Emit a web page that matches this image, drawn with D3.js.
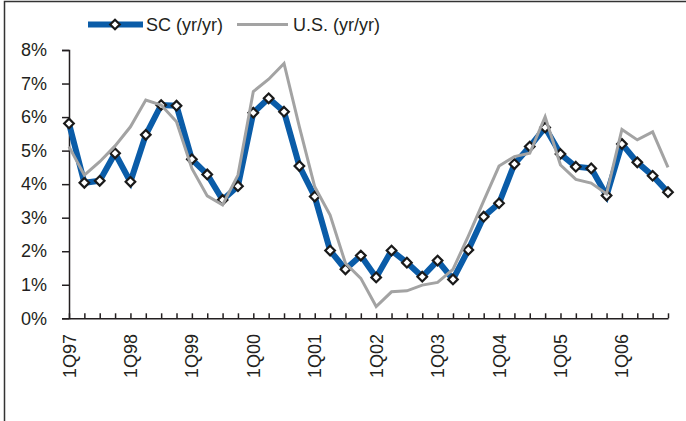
<!DOCTYPE html>
<html>
<head>
<meta charset="utf-8">
<script src="https://cdn.jsdelivr.net/npm/d3@7"></script>
<style>
  body { margin: 0; background: #fff; }
  text { font-family: "Liberation Sans", Arial, sans-serif; fill: #231f20; }
</style>
</head>
<body>
<main></main>
<script>
// quarters 1Q97 .. 4Q06
const quarters = [
  '1Q97','2Q97','3Q97','4Q97','1Q98','2Q98','3Q98','4Q98',
  '1Q99','2Q99','3Q99','4Q99','1Q00','2Q00','3Q00','4Q00',
  '1Q01','2Q01','3Q01','4Q01','1Q02','2Q02','3Q02','4Q02',
  '1Q03','2Q03','3Q03','4Q03','1Q04','2Q04','3Q04','4Q04',
  '1Q05','2Q05','3Q05','4Q05','1Q06','2Q06','3Q06','4Q06'
];
const quarterLabels = ['1Q97','1Q98','1Q99','1Q00','1Q01','1Q02','1Q03','1Q04','1Q05','1Q06'];

// growth, % yr/yr
const scValues = [5.81,4.04,4.10,4.92,4.07,5.47,6.36,6.34,4.74,4.29,
                  3.53,3.94,6.13,6.56,6.16,4.54,3.63,2.02,1.46,1.87,
                  1.22,2.02,1.66,1.24,1.72,1.16,2.04,3.03,3.43,4.60,
                  5.12,5.69,4.90,4.52,4.47,3.66,5.20,4.65,4.25,3.76];
const usValues = [5.12,4.27,4.67,5.14,5.71,6.51,6.36,5.86,4.47,3.65,
                  3.38,4.27,6.76,7.13,7.60,5.71,3.92,3.08,1.64,1.19,
                  0.35,0.79,0.82,0.99,1.07,1.46,2.45,3.50,4.54,4.82,
                  4.92,6.01,4.57,4.14,4.03,3.71,5.63,5.32,5.56,4.50];
const yTicks = [0,1,2,3,4,5,6,7,8];

const seriesNames = ['SC (yr/yr)', 'U.S. (yr/yr)'];

const width = 686;
const height = 421;
const blue = '#0a5ca8';
const grey = '#a3a3a3';
const axisColor = '#231f20';

let svg = d3.select('main')
  .append('svg')
  .attr('width', width)
  .attr('height', height);

// outer frame (left + top edges)
svg.append('path')
  .attr('d', 'M4.5,421 L4.5,1.5 L686,1.5')
  .attr('fill', 'none')
  .attr('stroke', '#333')
  .attr('stroke-width', 1.5);

const x = d3.scalePoint()
  .domain(quarters)
  .range([69, 668]);

const y = d3.scaleLinear()
  .domain([0, 8])
  .range([318.3, 50]);

// y axis
let yAxis = svg.append('g')
  .attr('transform', 'translate(69,0)')
  .call(d3.axisLeft(y).tickValues(yTicks).tickSize(7).tickPadding(0)
        .tickFormat(d => d + '%'));
yAxis.select('.domain').attr('stroke', axisColor).attr('stroke-width', 1.5);
yAxis.selectAll('.tick line').attr('stroke', axisColor).attr('stroke-width', 1.5);
yAxis.selectAll('.tick text')
  .attr('x', -22)
  .attr('font-size', 18)
  .attr('fill', axisColor)
  .style('font-family', '"Liberation Sans", Arial, sans-serif');

// x axis, ticks pointing up
let xAxis = svg.append('g')
  .attr('transform', 'translate(0,' + y(0) + ')')
  .call(d3.axisBottom(x).tickSize(-5).tickSizeOuter(0).tickFormat(''));
xAxis.select('.domain').attr('stroke', axisColor).attr('stroke-width', 1.5);
xAxis.selectAll('.tick line').attr('stroke', axisColor).attr('stroke-width', 1.5);

svg.append('g')
  .selectAll('text')
  .data(quarterLabels)
  .enter()
  .append('text')
  .attr('transform', function (d) {
    return 'translate(' + (x(d) + 6.5) + ',334) rotate(-90)';
  })
  .attr('text-anchor', 'end')
  .attr('font-size', 18)
  .text(function (d) { return d; });

// lines
const line = d3.line()
  .x(function (d, i) { return x(quarters[i]); })
  .y(function (d) { return y(d); });

svg.append('path')
  .datum(scValues)
  .attr('d', line)
  .attr('fill', 'none')
  .attr('stroke', blue)
  .attr('stroke-width', 6)
  .attr('stroke-linejoin', 'miter');

const diamond = 'M0,-4.8L4.8,0L0,4.8L-4.8,0Z';

svg.append('g')
  .selectAll('path')
  .data(scValues)
  .enter()
  .append('path')
  .attr('d', diamond)
  .attr('transform', function (d, i) {
    return 'translate(' + x(quarters[i]) + ',' + y(d) + ')';
  })
  .attr('fill', '#fff')
  .attr('stroke', '#1a1a1a')
  .attr('stroke-width', 2.2);

svg.append('path')
  .datum(usValues)
  .attr('d', line)
  .attr('fill', 'none')
  .attr('stroke', grey)
  .attr('stroke-width', 3);

// legend
let legend = svg.append('g');
legend.append('line')
  .attr('x1', 88).attr('x2', 143).attr('y1', 24.5).attr('y2', 24.5)
  .attr('stroke', blue).attr('stroke-width', 6);
legend.append('path')
  .attr('d', diamond)
  .attr('transform', 'translate(115,24.5)')
  .attr('fill', '#fff').attr('stroke', '#1a1a1a').attr('stroke-width', 2.2);
legend.append('text')
  .attr('x', 146).attr('y', 31)
  .attr('font-size', 18)
  .text(seriesNames[0]);
legend.append('line')
  .attr('x1', 237).attr('x2', 288).attr('y1', 24.5).attr('y2', 24.5)
  .attr('stroke', grey).attr('stroke-width', 3);
legend.append('text')
  .attr('x', 293).attr('y', 31)
  .attr('font-size', 18)
  .text(seriesNames[1]);
</script>
</body>
</html>
